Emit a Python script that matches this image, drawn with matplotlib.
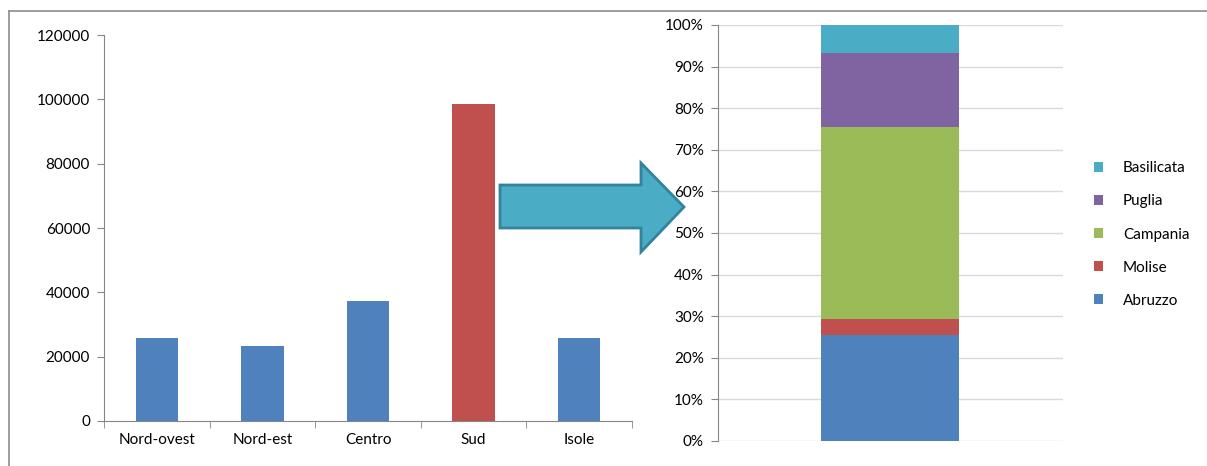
import matplotlib.pyplot as plt
from matplotlib.lines import Line2D
from matplotlib.patches import Polygon, Patch
from matplotlib.ticker import PercentFormatter

plt.rcParams['font.family'] = ['Lato', 'DejaVu Sans']

# Left chart data
macro_areas = ['Nord-ovest', 'Nord-est', 'Centro', 'Sud', 'Isole']
macro_values = [25700, 23300, 37300, 98400, 25700]
macro_colors = ['#4F81BD', '#4F81BD', '#4F81BD', '#C0504D', '#4F81BD']

# Right chart data (share of Sud, %)
regions = ['Abruzzo', 'Molise', 'Campania', 'Puglia', 'Basilicata']
region_share = [25.6, 3.8, 46.1, 17.7, 6.8]
region_colors = ['#4F81BD', '#C0504D', '#9BBB59', '#8064A2', '#4BACC6']

W, H = 1207, 466
fig = plt.figure(figsize=(W / 100, H / 100), dpi=100)

# outer frame (top and left edges only are visible)
frame_col = '#8c8c8c'
fig.add_artist(Line2D([9 / W, 1], [1 - 11 / H, 1 - 11 / H], color=frame_col, lw=1.2,
                      transform=fig.transFigure))
fig.add_artist(Line2D([9 / W, 9 / W], [0, 1 - 11 / H], color=frame_col, lw=1.2,
                      transform=fig.transFigure))

axis_col = '#868686'
fs = 11

# ---- left bar chart
ax1 = fig.add_axes([104 / W, 1 - 421 / H, 528 / W, 386 / H])
x = range(len(macro_areas))
ax1.bar(x, macro_values, width=0.4, color=macro_colors)
ax1.set_xlim(-0.5, len(macro_areas) - 0.5)
ax1.set_ylim(0, 120000)
ax1.set_yticks(range(0, 120001, 20000))
ax1.set_xticks(list(x))
ax1.set_xticklabels(macro_areas)
ax1.set_xticks([i - 0.5 for i in range(len(macro_areas) + 1)], minor=True)
ax1.tick_params(axis='x', which='major', length=0, pad=9, labelsize=fs)
ax1.tick_params(axis='x', which='minor', length=5, color=axis_col, direction='out')
ax1.tick_params(axis='y', length=5, color=axis_col, labelsize=fs, pad=5)
for s in ['top', 'right']:
    ax1.spines[s].set_visible(False)
for s in ['left', 'bottom']:
    ax1.spines[s].set_color(axis_col)

# ---- right stacked 100% bar
ax2 = fig.add_axes([717.7 / W, 1 - 441 / H, 345 / W, 416 / H])
bottom = 0
for name, share, col in zip(regions, region_share, region_colors):
    ax2.bar(0, share, bottom=bottom, width=0.4, color=col, label=name, zorder=3)
    bottom += share
ax2.set_xlim(-0.5, 0.5)
ax2.set_ylim(0, 100)
ax2.set_yticks(range(0, 101, 10))
ax2.yaxis.set_major_formatter(PercentFormatter(decimals=0))
ax2.set_xticks([])
ax2.grid(axis='y', color='#d9d9d9', linewidth=1, zorder=0)
ax2.tick_params(axis='y', length=5, color=axis_col, labelsize=fs, pad=5)
for s in ['top', 'right', 'bottom']:
    ax2.spines[s].set_visible(False)
ax2.spines['left'].set_color(axis_col)

handles = [Patch(facecolor=c, label=n) for n, c in zip(regions, region_colors)][::-1]
fig.legend(handles=handles, loc='center left', bbox_to_anchor=(1080 / W, 1 - 234.5 / H),
           frameon=False, fontsize=fs, handlelength=0.6, handleheight=0.6,
           labelspacing=1.25, handletextpad=1.3)

# ---- arrow between the charts
arrow_pts = [(500, 185), (641, 185), (641, 163), (684, 207), (641, 252), (641, 228), (500, 228)]
fig.patches.append(Polygon([(px / W, 1 - py / H) for px, py in arrow_pts], closed=True,
                           transform=fig.transFigure, facecolor='#4BACC6',
                           edgecolor='#31849B', linewidth=2, zorder=5))

fig.savefig('out.png', dpi=100)
